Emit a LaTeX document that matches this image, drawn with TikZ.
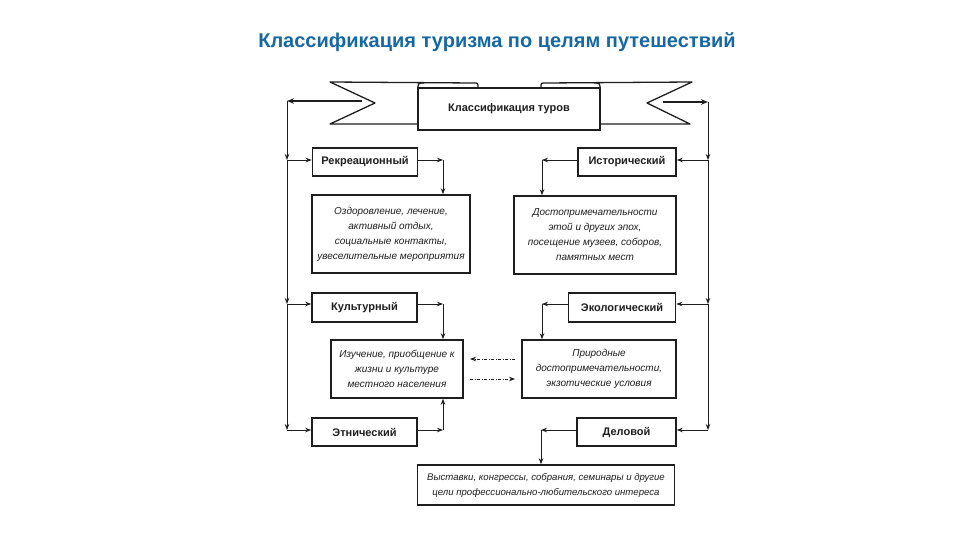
\documentclass[tikz,border=0pt]{standalone}
\usepackage{fontspec}
\setmainfont{Liberation Sans}
\usetikzlibrary{arrows.meta}
\definecolor{ttl}{RGB}{22,104,163}
\definecolor{ink}{RGB}{30,30,30}
\begin{document}
\begin{tikzpicture}[x=1pt,y=-1pt,
  box/.style={draw=ink, line width=1.6pt, fill=white, inner sep=0pt, text=ink,
    font=\bfseries\fontsize{11}{13}\selectfont},
  desc/.style={draw=ink, line width=1.6pt, fill=white, inner sep=0pt, align=center, text=ink,
    font=\itshape\fontsize{10}{15}\selectfont},
  conn/.style={draw=ink, line width=0.8pt, -{Stealth[length=6pt,width=4.5pt]}},
  bigarrow/.style={draw=ink, line width=1.6pt, -{Stealth[length=7pt,width=5.5pt]}},
  dashconn/.style={conn, dash pattern=on 3pt off 1.5pt on 1pt off 1.5pt}]
\useasboundingbox (0,0) rectangle (960,540);
% title
\node[font=\bfseries\fontsize{20}{24}\selectfont, text=ttl] (title) at (497,42) {Классификация туризма по целям путешествий};
% ribbon banner
\draw[ink, line width=1.3pt, line join=round] (420,124) -- (330,124) -- (375,103) -- (330,82) -- (474,83) .. controls (478,83) .. (478,88);
\draw[ink, line width=1.3pt, line join=round] (598,124) -- (690,124) -- (647,103) -- (692,82) -- (545,83) .. controls (541,83) .. (541,88);
\node[box, minimum width=182pt, minimum height=42pt] (ban) at (509,109) {Классификация туров};
\draw[ink, line width=1.3pt] (418,90) .. controls (418,83) .. (424,83);
\draw[ink, line width=1.3pt] (600,90) .. controls (600,83) .. (594,83);
% type boxes
\node[box, minimum width=105pt, minimum height=28pt] (rek) at (365,162) {Рекреационный};
\node[box, minimum width=98pt, minimum height=28pt] (ist) at (627,162) {Исторический};
\node[box, minimum width=105pt, minimum height=29pt] (kul) at (364.5,307.5) {Культурный};
\node[box, minimum width=107pt, minimum height=29pt] (eko) at (622,307.5) {Экологический};
\node[box, minimum width=105pt, minimum height=28pt] (etn) at (364.5,432) {Этнический};
\node[box, minimum width=99pt, minimum height=28pt] (del) at (626.5,432) {Деловой};
% description boxes
\node[desc, minimum width=158pt, minimum height=78pt] (rekd) at (391,234) {Оздоровление, лечение,\\активный отдых,\\социальные контакты,\\увеселительные мероприятия};
\node[desc, minimum width=162pt, minimum height=78pt] (istd) at (595,235) {Достопримечательности\\этой и других эпох,\\посещение музеев, соборов,\\памятных мест};
\node[desc, minimum width=132pt, minimum height=58pt] (izu) at (397,369) {Изучение, приобщение к\\жизни и культуре\\местного населения};
\node[desc, minimum width=154pt, minimum height=58pt] (pri) at (599,369) {Природные\\достопримечательности,\\экзотические условия};
\node[desc, minimum width=257pt, minimum height=40pt, font=\itshape\fontsize{9.6}{15}\selectfont] (vys) at (546,485) {Выставки, конгрессы, собрания, семинары и другие\\цели профессионально-любительского интереса};
% trunks
\coordinate (nl) at (362,101);
\coordinate (nr) at (663,102);
\coordinate (L0) at (287,101);
\coordinate (L1) at (287,160);
\coordinate (L2) at (287,304);
\coordinate (L3) at (287,430);
\coordinate (R0) at (708,102);
\coordinate (R1) at (708,160);
\coordinate (R2) at (708,304);
\coordinate (R3) at (708,430);
\draw[bigarrow] (nl) -- (L0);
\draw[bigarrow] (nr) -- (R0);
\draw[conn] (L0) -- (L1);
\draw[conn] (L1) -- (L2);
\draw[conn] (L2) -- (L3);
\draw[conn] (R0) -- (R1);
\draw[conn] (R1) -- (R2);
\draw[conn] (R2) -- (R3);
\draw[conn] (L1) -- (L1 -| rek.west);
\draw[conn] (L2) -- (L2 -| kul.west);
\draw[conn] (L3) -- (L3 -| etn.west);
\draw[conn] (R1) -- (R1 -| ist.east);
\draw[conn] (R2) -- (R2 -| eko.east);
\draw[conn] (R3) -- (R3 -| del.east);
% box to description
\coordinate (c1) at (443,160);
\coordinate (c2) at (542,160);
\coordinate (c3) at (443,304);
\coordinate (c4) at (542,304);
\coordinate (c5) at (443,430);
\coordinate (c6) at (541,430);
\draw[conn] (c1 -| rek.east) -- (c1);
\draw[conn] (c1) -- (c1 |- rekd.north);
\draw[conn] (c2 -| ist.west) -- (c2);
\draw[conn] (c2) -- (c2 |- istd.north);
\draw[conn] (c3 -| kul.east) -- (c3);
\draw[conn] (c3) -- (c3 |- izu.north);
\draw[conn] (c4 -| eko.west) -- (c4);
\draw[conn] (c4) -- (c4 |- pri.north);
\draw[conn] (c5 -| etn.east) -- (c5);
\draw[conn] (c5) -- (c5 |- izu.south);
\draw[conn] (c6 -| del.west) -- (c6);
\draw[conn] (c6) -- (c6 |- vys.north);
% dashed relations
\coordinate (d1a) at (515,359);
\coordinate (d1b) at (470,359);
\coordinate (d2a) at (470,379);
\coordinate (d2b) at (515,379);
\draw[dashconn] (d1a) -- (d1b);
\draw[dashconn] (d2a) -- (d2b);
\end{tikzpicture}
\end{document}
